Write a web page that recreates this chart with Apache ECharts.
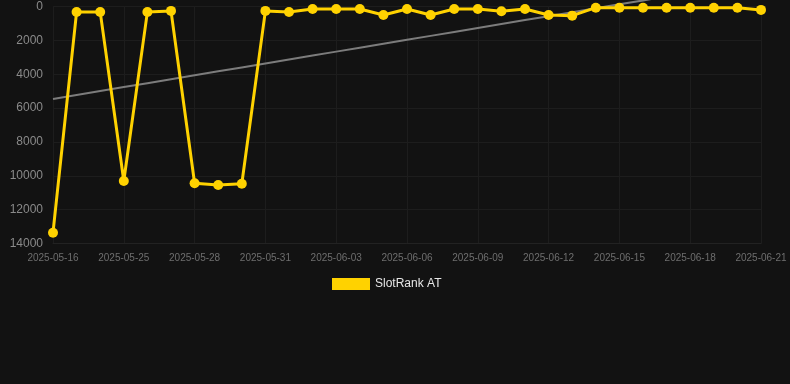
<!DOCTYPE html>
<html><head><meta charset="utf-8">
<script src="https://cdn.jsdelivr.net/npm/echarts@6/dist/echarts.min.js"></script>
<style>html,body{margin:0;padding:0;background:#121212;}#c{width:790px;height:384px;}</style>
</head><body><div id="c"></div>
<script>
const categories = ['2025-05-16','2025-05-23','2025-05-24','2025-05-25','2025-05-26','2025-05-27','2025-05-28','2025-05-29','2025-05-30','2025-05-31',
'2025-06-01','2025-06-02','2025-06-03','2025-06-04','2025-06-05','2025-06-06','2025-06-07','2025-06-08','2025-06-09','2025-06-10',
'2025-06-11','2025-06-12','2025-06-13','2025-06-14','2025-06-15','2025-06-16','2025-06-17','2025-06-18','2025-06-19','2025-06-20','2025-06-21'];
const rankValues = [13360,320,320,10310,320,260,10445,10540,10470,260,
330,150,150,150,500,150,500,150,150,280,
150,500,540,70,70,70,70,70,70,70,200];
const yTicks = [0,2000,4000,6000,8000,10000,12000,14000];
const seriesName = 'SlotRank AT';

// linear regression trend from the data
const n = rankValues.length;
let sx=0, sy=0, sxy=0, sxx=0;
rankValues.forEach((v,i)=>{sx+=i;sy+=v;sxy+=i*v;sxx+=i*i;});
const slope = (n*sxy - sx*sy)/(n*sxx - sx*sx);
const intercept = (sy - slope*sx)/n;
const trend = rankValues.map((v,i)=>intercept + slope*i);

const chart = echarts.init(document.getElementById('c'), null, {renderer:'canvas'});
chart.setOption({
  backgroundColor:'#121212',
  animation:false,
  grid:{left:53,right:29,top:6.5,bottom:140.5},
  legend:{
    data:[{name:seriesName, icon:'rect'}],
    left:327, top:273, itemWidth:38, itemHeight:12, itemGap:10,
    textStyle:{color:'#e6e6e6', fontSize:12}
  },
  xAxis:{
    type:'category', data:categories, boundaryGap:false,
    axisLine:{onZero:false, lineStyle:{color:'#222222'}},
    axisTick:{show:false},
    axisLabel:{interval:2, color:'#6e6e6e', fontSize:10, margin:10},
    splitLine:{show:true, interval:2, lineStyle:{color:'#1d1d1d'}}
  },
  yAxis:{
    type:'value', inverse:true, min:yTicks[0], max:yTicks[yTicks.length-1], interval:2000,
    axisLine:{show:false}, axisTick:{show:false},
    axisLabel:{color:'#8a8a8a', fontSize:12, margin:10, formatter:function(v){return String(v);}},
    splitLine:{lineStyle:{color:'#1d1d1d'}}
  },
  series:[
    {name:'trend', type:'line', data:trend, showSymbol:false, symbol:'none', clip:false,
     lineStyle:{color:'#7c7c7c', width:2}, silent:true, z:1},
    {name:seriesName, type:'line', data:rankValues, symbol:'circle', symbolSize:10,
     itemStyle:{color:'#FFD200'}, lineStyle:{color:'#FFD200', width:3}, z:3}
  ]
});
</script></body></html>
